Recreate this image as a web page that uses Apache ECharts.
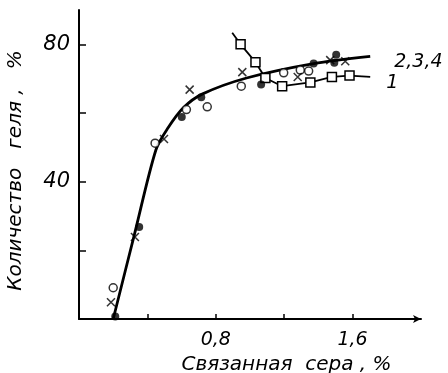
<!DOCTYPE html>
<html>
<head>
<meta charset="utf-8">
<script src="https://cdn.jsdelivr.net/npm/echarts@6/dist/echarts.min.js"></script>
<style>
  html, body { margin: 0; padding: 0; background: #fff; }
  #main { width: 448px; height: 373px; }
</style>
</head>
<body>
<div id="main"></div>
<script>
// сглаженная кривая 2,3,4 (связанная сера, % ; количество геля, %)
var curveMain = [[0.2, 0], [0.325, 24.8], [0.45, 49.3], [0.52, 55.6], [0.61, 61.5], [0.72, 65.5],
    [0.98, 70.2], [1.372, 74.4], [1.703, 76.5]];
// кривая 1 (квадраты); первая и последняя точки - концы линии без маркера
var curve1 = [[0.896, 83.4], [0.945, 80.0], [1.032, 74.8], [1.09, 70.2], [1.188, 67.8],
    [1.353, 68.9], [1.479, 70.5], [1.582, 70.9], [1.703, 70.5]];
// точки
var filledPts = [[0.212, 0.7], [0.352, 26.8], [0.601, 58.8], [0.715, 64.6], [1.065, 68.3],
    [1.372, 74.4], [1.504, 77.0], [1.493, 74.6]];
var openPts = [[0.2, 9.1], [0.445, 51.2], [0.628, 61.0], [0.75, 61.8], [0.949, 67.8],
    [1.197, 71.7], [1.294, 72.5], [1.343, 72.2]];
var crossPts = [[0.187, 4.9], [0.327, 23.9], [0.497, 52.4], [0.647, 66.8], [0.955, 71.9],
    [1.279, 70.5], [1.469, 75.4], [1.557, 75.1]];
// деления осей
var xTicks = [0.4, 0.8, 1.2, 1.6];
var xLabels = [0.8, 1.6];
var yTicks = [20, 40, 60, 80];
var yLabels = [40, 80];

var FONT = 'DejaVu Sans';
var crossPath = 'path://M0,0L10,10M10,0L0,10';

var myChart = echarts.init(document.getElementById('main'));

var curve1Data = curve1.map(function(p, i) {
    var last = curve1.length - 1;
    if (i === 0 || i === last) {
        return { value: p, symbol: 'none' };
    }
    return { value: p };
});

var option = {
    animation: false,
    backgroundColor: '#fff',
    grid: { left: 79, right: 27, top: 10, bottom: 54, outerBoundsMode: 'none' },
    xAxis: {
        type: 'value',
        min: 0,
        max: 2.0,
        name: 'Связанная  сера , %',
        nameLocation: 'middle',
        nameGap: 27,
        nameTextStyle: { fontFamily: FONT, fontStyle: 'italic', fontSize: 20, color: '#000', padding: [0, 0, 0, 73] },
        axisLine: { lineStyle: { color: '#000', width: 2 }, symbol: ['none', 'arrow'], symbolSize: [6, 8] },
        axisTick: { inside: true, length: 5, lineStyle: { color: '#000', width: 1.5 }, customValues: xTicks },
        axisLabel: {
            customValues: xLabels,
            margin: 12,
            fontFamily: FONT, fontStyle: 'italic', fontSize: 19, color: '#000',
            formatter: function(v) { return v.toFixed(1).replace('.', ','); }
        },
        splitLine: { show: false }
    },
    yAxis: {
        type: 'value',
        min: 0,
        max: 90,
        name: 'Количество   геля ,   %',
        nameLocation: 'middle',
        nameGap: 53,
        nameTextStyle: { fontFamily: FONT, fontStyle: 'italic', fontSize: 20, color: '#000', padding: [0, 12, 0, 0] },
        axisLine: { lineStyle: { color: '#000', width: 2 } },
        axisTick: { inside: true, length: 7, lineStyle: { color: '#000', width: 1.5 }, customValues: yTicks },
        axisLabel: {
            customValues: yLabels,
            margin: 9,
            fontFamily: FONT, fontStyle: 'italic', fontSize: 21, color: '#000'
        },
        splitLine: { show: false }
    },
    series: [{
        name: '2,3,4',
        type: 'line',
        data: curveMain,
        smooth: 0.3,
        showSymbol: false,
        lineStyle: { color: '#000', width: 2.8 },
        endLabel: {
            show: true, formatter: '2,3,4', offset: [16, 6],
            fontFamily: FONT, fontStyle: 'italic', fontSize: 19, color: '#000'
        },
        z: 2
    }, {
        name: '1',
        type: 'line',
        data: curve1Data,
        symbol: 'rect',
        symbolSize: 9,
        itemStyle: { color: '#fff', borderColor: '#000', borderWidth: 1.5 },
        lineStyle: { color: '#000', width: 1.8 },
        endLabel: {
            show: true, formatter: '1', offset: [8, 6],
            fontFamily: FONT, fontStyle: 'italic', fontSize: 19, color: '#000'
        },
        z: 3
    }, {
        type: 'scatter',
        data: filledPts,
        symbol: 'circle',
        symbolSize: 8,
        itemStyle: { color: '#000' },
        z: 4
    }, {
        type: 'scatter',
        data: openPts,
        symbol: 'circle',
        symbolSize: 8,
        itemStyle: { color: '#fff', borderColor: '#000', borderWidth: 1.5 },
        z: 4
    }, {
        type: 'scatter',
        data: crossPts,
        symbol: crossPath,
        symbolSize: 8,
        itemStyle: { color: 'none', borderColor: '#000', borderWidth: 1.5 },
        z: 4
    }]
};
myChart.setOption(option);
</script>
</body>
</html>
